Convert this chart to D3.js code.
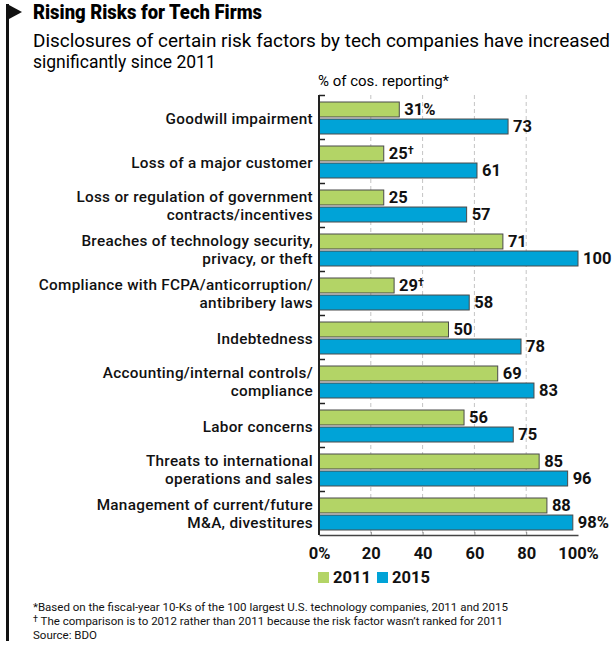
<!DOCTYPE html>
<html lang="en">
<head>
<meta charset="UTF-8">
<title>Rising Risks for Tech Firms</title>
<script src="https://d3js.org/d3.v7.min.js"></script>
<style>
    body { margin: 0; background: #fff; }
    svg { display: block; font-family: Roboto, "Noto Sans", sans-serif; }
</style>
</head>
<body>
<div id="chart"></div>
<script>
    // data
    const categories = [
        ["Goodwill impairment"],
        ["Loss of a major customer"],
        ["Loss or regulation of government", "contracts/incentives"],
        ["Breaches of technology security,", "privacy, or theft"],
        ["Compliance with FCPA/anticorruption/", "antibribery laws"],
        ["Indebtedness"],
        ["Accounting/internal controls/", "compliance"],
        ["Labor concerns"],
        ["Threats to international", "operations and sales"],
        ["Management of current/future", "M&A, divestitures"]
    ];
    const series = ["2011", "2015"];
    const values2011 = [31, 25, 25, 71, 29, 50, 69, 56, 85, 88];
    const values2015 = [73, 61, 57, 100, 58, 78, 83, 75, 96, 98];
    const suffix2011 = ["%", "†", "", "", "†", "", "", "", "", ""];
    const suffix2015 = ["", "", "", "", "", "", "", "", "", "%"];
    const xTicks = [0, 20, 40, 60, 80, 100];
    const xTickLabels = ["0%", "20", "40", "60", "80", "100%"];
    const gridTicks = [20, 40, 60, 80];
    const colors = { "2011": "#b3d466", "2015": "#00a3d7" };

    const width = 615, height = 646;
    const svg = d3.select("#chart").append("svg")
        .attr("width", width)
        .attr("height", height);

    // flag + pole on the left
    svg.append("rect").attr("x", 6).attr("y", 4).attr("width", 3).attr("height", 637).attr("fill", "#111");
    svg.append("path").attr("d", "M9,5 L22,12 L9,19 Z").attr("fill", "#111");

    svg.append("text")
        .attr("x", 33).attr("y", 19)
        .attr("font-size", 19.5).attr("font-weight", 900)
        .attr("textLength", 229).attr("lengthAdjust", "spacingAndGlyphs")
        .text("Rising Risks for Tech Firms");

    svg.append("text")
        .attr("x", 33).attr("y", 47)
        .attr("font-size", 17.5)
        .attr("textLength", 577).attr("lengthAdjust", "spacingAndGlyphs")
        .text("Disclosures of certain risk factors by tech companies have increased");
    svg.append("text")
        .attr("x", 33).attr("y", 68)
        .attr("font-size", 17.5)
        .text("significantly since 2011");

    svg.append("text")
        .attr("x", 318).attr("y", 86)
        .attr("font-size", 15)
        .text("% of cos. reporting*");

    const rows = categories.map((c, i) => ({
        i: i,
        label: c,
        bars: [
            { key: "2011", value: values2011[i], suffix: suffix2011[i] },
            { key: "2015", value: values2015[i], suffix: suffix2015[i] }
        ]
    }));

    const x = d3.scaleLinear().domain([0, 100]).range([319, 578]);
    const y = d3.scaleBand().domain(d3.range(categories.length)).range([95, 535]);
    const ySub = d3.scaleBand().domain(series).range([7, 39]).paddingInner(0.12);

    // dashed gridlines
    svg.append("g").selectAll("line")
        .data(gridTicks)
        .join("line")
        .attr("x1", d => x(d)).attr("x2", d => x(d))
        .attr("y1", 95).attr("y2", 535)
        .attr("stroke", "#c4c4c4")
        .attr("stroke-dasharray", "4,3");

    const groups = svg.append("g").selectAll("g")
        .data(rows)
        .join("g")
        .attr("transform", d => `translate(0,${y(d.i)})`);

    groups.selectAll("rect")
        .data(d => d.bars)
        .join("rect")
        .attr("x", x(0))
        .attr("y", d => ySub(d.key))
        .attr("width", d => x(d.value) - x(0))
        .attr("height", ySub.bandwidth())
        .attr("fill", d => colors[d.key])
        .attr("stroke", "#4a4a4a")
        .attr("stroke-width", 1);

    const valLabels = groups.selectAll("text.val")
        .data(d => d.bars)
        .join("text")
        .attr("class", "val")
        .attr("x", d => x(d.value) + 5)
        .attr("y", d => ySub(d.key) + ySub.bandwidth() / 2 + 5.5)
        .attr("font-size", 16.5)
        .attr("font-weight", 700)
        .attr("fill", "#111");
    valLabels.append("tspan").text(d => d.value + (d.suffix === "%" ? "%" : ""));
    valLabels.filter(d => d.suffix === "†").append("tspan")
        .attr("font-size", 11).attr("dy", -5).text("†");

    // category labels
    groups.append("text")
        .attr("text-anchor", "end")
        .attr("font-size", 15.3)
        .attr("letter-spacing", 0.3)
        .attr("font-weight", 500)
        .attr("fill", "#111")
        .each(function (d) {
            const t = d3.select(this);
            const mid = y.bandwidth() / 2;
            if (d.label.length === 1) {
                t.append("tspan").attr("x", 313).attr("y", mid + 7).text(d.label[0]);
            } else {
                t.append("tspan").attr("x", 313).attr("y", mid - 3).text(d.label[0]);
                t.append("tspan").attr("x", 313).attr("y", mid + 15).text(d.label[1]);
            }
        });

    // left axis: vertical line with group boundary ticks
    svg.append("line")
        .attr("x1", x(0)).attr("x2", x(0))
        .attr("y1", 95).attr("y2", 535)
        .attr("stroke", "#222").attr("stroke-width", 2);
    svg.append("g").selectAll("line")
        .data(d3.range(categories.length))
        .join("line")
        .attr("x1", x(0)).attr("x2", x(0) + 6)
        .attr("y1", d => y(d) + 0.5).attr("y2", d => y(d) + 0.5)
        .attr("stroke", "#222").attr("stroke-width", 1.5);

    // bottom axis
    const xAxis = d3.axisBottom(x)
        .tickValues(xTicks)
        .tickSize(0)
        .tickPadding(12)
        .tickFormat((d, i) => xTickLabels[i]);
    const xg = svg.append("g")
        .attr("transform", "translate(0,535)")
        .call(xAxis);
    xg.select(".domain").attr("stroke", "#444").attr("stroke-width", 1.5);
    xg.selectAll(".tick text")
        .attr("font-family", "Roboto, sans-serif")
        .attr("font-size", 16.5)
        .attr("font-weight", 700)
        .attr("fill", "#111");
    xg.selectAll(".tick")
        .filter(d => d > 0 && d < 100)
        .append("line")
        .attr("y1", 0).attr("y2", -3)
        .attr("stroke", "#888");

    // legend
    const legend = svg.append("g").attr("transform", "translate(318,572)");
    const li = legend.selectAll("g")
        .data(series)
        .join("g")
        .attr("transform", (d, i) => `translate(${i * 59},0)`);
    li.append("rect")
        .attr("width", 11).attr("height", 11)
        .attr("fill", d => colors[d]);
    li.append("text")
        .attr("x", 15).attr("y", 11)
        .attr("font-size", 16.5).attr("font-weight", 700)
        .attr("fill", "#111")
        .text(d => d);

    // footnotes
    const notes = svg.append("g").attr("font-size", 11.5).attr("fill", "#111");
    notes.append("text").attr("x", 33).attr("y", 611)
        .text("*Based on the fiscal-year 10-Ks of the 100 largest U.S. technology companies, 2011 and 2015");
    const n2 = notes.append("text").attr("x", 33).attr("y", 625);
    n2.append("tspan").attr("font-size", 9).attr("dy", -3).text("†");
    n2.append("tspan").attr("dy", 3).text(" The comparison is to 2012 rather than 2011 because the risk factor wasn’t ranked for 2011");
    notes.append("text").attr("x", 33).attr("y", 639).text("Source: BDO");
</script>
</body>
</html>
